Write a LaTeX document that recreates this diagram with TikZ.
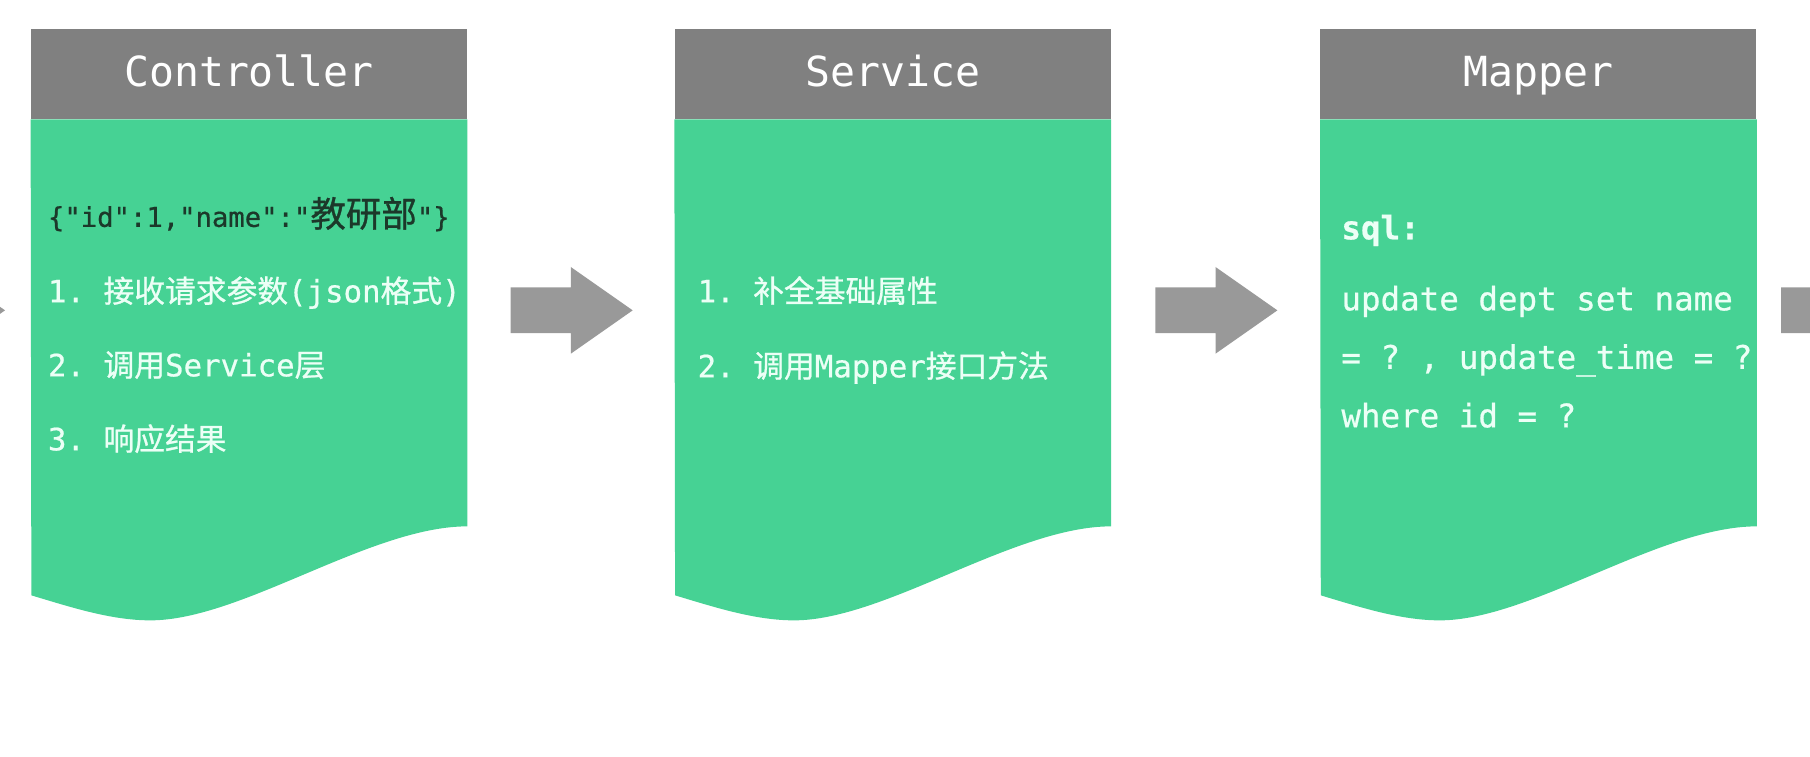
\documentclass[tikz,border=0pt]{standalone}
\usepackage{fontspec}
\setmonofont{DejaVu Sans Mono}
\newfontfamily\bodymono[FakeBold=0.6,PunctuationSpace=WordSpace]{DejaVu Sans Mono}
\newfontfamily\cjk[FakeBold=0.8]{Noto Sans CJK SC}
\newcommand{\zh}[1]{{\cjk #1}}
\definecolor{layerGray}{RGB}{128,128,128}
\definecolor{layerGreen}{RGB}{70,210,148}
\definecolor{flowGray}{RGB}{153,153,153}
\definecolor{noteLight}{RGB}{236,255,246}
\definecolor{noteDark}{RGB}{28,56,42}
\usetikzlibrary{positioning,shapes.arrows,calc}

\begin{document}
\begin{tikzpicture}[
  head/.style={fill=layerGray, text=white, minimum width=8.72cm, minimum height=1.8cm,
               inner sep=0pt, text height=14.7pt, text depth=0pt,
               font=\ttfamily\fontsize{23.6}{28}\selectfont},
  item/.style={anchor=base west, inner sep=0pt, text=noteLight,
               font=\bodymono\frenchspacing\fontsize{17.5}{21}\selectfont},
  jsonitem/.style={item, text=noteDark, font=\bodymono\frenchspacing\fontsize{15.5}{19}\selectfont},
  sqlitem/.style={item, font=\bodymono\frenchspacing\fontsize{18.5}{22}\selectfont},
  flow/.style={single arrow, fill=flowGray, draw=none, inner xsep=0pt, inner ysep=0.45cm,
               single arrow head extend=0.41cm, single arrow tip angle=70,
               minimum height=2.44cm}
]
  \useasboundingbox (0,0) rectangle (36.2,15.12);
  \clip (0,0) rectangle (36.2,15.12);

  \node[head]                           (ctrlhead) at (4.98,13.64) {Controller};
  \node[head, right=4.14cm of ctrlhead] (svchead)  {Service};
  \node[head, right=4.18cm of svchead]  (maphead)  {Mapper};

  % green sheets with a wavy bottom
  \foreach \h in {ctrlhead,svchead,maphead}
    \fill[layerGreen] (\h.south west) -- (\h.south east) -- ++(0,-8.14)
      .. controls +(-1.94,0) and +(1.82,0) .. ++(-6.34,-1.88)
      .. controls +(-0.78,0) and +(0.8,-0.24) .. ++(-2.38,0.5) -- cycle;

  \node[jsonitem] (ctrlreq) at ($(ctrlhead.south west)+(0.34,-2.15)$)
       {\{"id":1,"name":"{\fontsize{20.2}{24}\selectfont\cjk 教研部}"\}};
  \node[item] (ctrlone)   at ($(ctrlhead.south west)+(0.34,-3.66)$) {1. \zh{接收请求参数}(json\zh{格式})};
  \node[item] (ctrltwo)   at ($(ctrlhead.south west)+(0.34,-5.14)$) {2. \zh{调用}Service\zh{层}};
  \node[item] (ctrlthree) at ($(ctrlhead.south west)+(0.34,-6.62)$) {3. \zh{响应结果}};

  \node[item] (svcone) at ($(svchead.south west)+(0.46,-3.66)$) {1. \zh{补全基础属性}};
  \node[item] (svctwo) at ($(svchead.south west)+(0.46,-5.16)$) {2. \zh{调用}Mapper\zh{接口方法}};

  \node[sqlitem] (mapsql)   at ($(maphead.south west)+(0.42,-2.40)$) {\bfseries sql:};
  \node[sqlitem] (mapone)   at ($(maphead.south west)+(0.42,-3.82)$) {update dept set name};
  \node[sqlitem] (maptwo)   at ($(maphead.south west)+(0.42,-4.99)$) {= ? , update\_time = ?};
  \node[sqlitem] (mapthree) at ($(maphead.south west)+(0.42,-6.16)$) {where id = ?};

  \node[flow, anchor=tip]  (flowin)  at ($(ctrlhead.south west)+(-0.5,-3.82)$) {};
  \node[flow, anchor=tail] (flowcs)  at ($(ctrlhead.south east)+(0.86,-3.82)$) {};
  \node[flow, anchor=tail] (flowsm)  at ($(svchead.south east)+(0.88,-3.82)$) {};
  \node[flow, anchor=tail] (flowout) at ($(maphead.south east)+(0.48,-3.82)$) {};
\end{tikzpicture}
\end{document}
